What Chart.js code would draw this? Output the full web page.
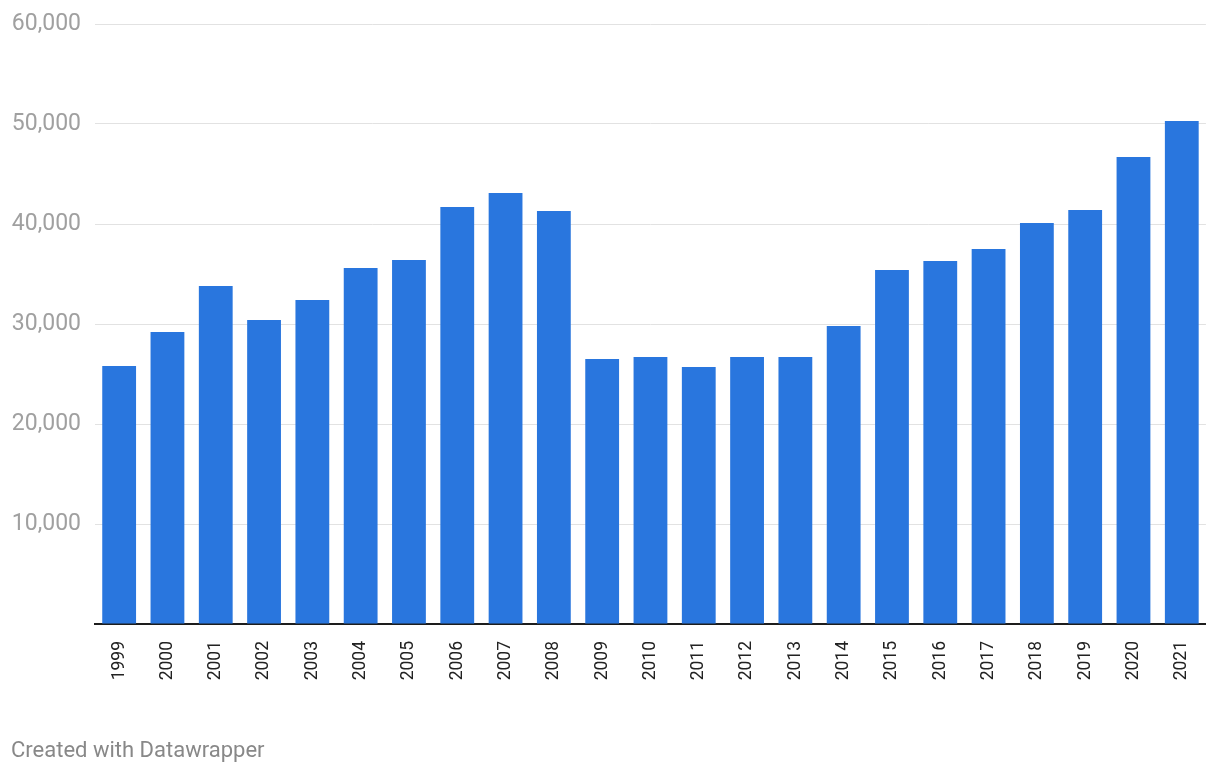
<!DOCTYPE html>
<html>
<head>
<meta charset="utf-8">
<script src="https://cdn.jsdelivr.net/npm/chart.js@4/dist/chart.umd.min.js"></script>
<style>
  html, body { margin:0; padding:0; background:#fff; }
  #wrap { position:relative; width:1220px; height:774px; }
  #footer { position:absolute; left:11px; top:737px; font-family:Roboto, sans-serif; font-size:22px; line-height:26px; color:#888; }
</style>
</head>
<body>
<div id="wrap">
  <canvas id="chart" width="1220" height="774"></canvas>
  <div id="footer">Created with Datawrapper</div>
</div>
<script>
// values
const years = ['1999','2000','2001','2002','2003','2004','2005','2006','2007','2008','2009','2010',
               '2011','2012','2013','2014','2015','2016','2017','2018','2019','2020','2021'];
const values = [25800, 29200, 33800, 30400, 32400, 35600, 36400, 41700, 43100, 41300, 26500, 26700,
                25700, 26700, 26700, 29800, 35400, 36300, 37500, 40100, 41400, 46700, 50300];
const yTicks = [0, 10000, 20000, 30000, 40000, 50000, 60000];

const ctx = document.getElementById('chart').getContext('2d');
new Chart(ctx, {
  type: 'bar',
  data: {
    labels: years,
    datasets: [{ data: values, backgroundColor: '#2976de', barPercentage: 0.7, categoryPercentage: 1 }]
  },
  options: {
    responsive: false,
    animation: false,
    layout: { padding: { top: 24, right: 10, left: 0, bottom: 0 } },
    plugins: { legend: { display: false }, tooltip: { enabled: false } },
    scales: {
      x: {
        grid: { display: false, drawTicks: false },
        border: { display: true, color: '#1d1d1d', width: 2 },
        ticks: { minRotation: 90, maxRotation: 90, padding: 17, color: '#222',
                 font: { family: 'Roboto', size: 17.5 } },
        afterFit: s => { s.height = 150; }
      },
      y: {
        min: 0, max: 60000,
        afterBuildTicks: s => { s.ticks = yTicks.map(v => ({ value: v })); },
        grid: { color: c => c.tick.value === 0 ? 'rgba(0,0,0,0)' : '#e2e2e2', lineWidth: 1, drawTicks: false },
        border: { display: false },
        ticks: { padding: 14, color: '#a0a0a0', font: { family: 'Roboto', size: 23 },
                 callback: v => v === 0 ? '' : v.toLocaleString('en-US') },
        afterFit: s => { s.width = 95; s.paddingTop = 0; s.paddingBottom = 0; }
      }
    }
  }
});
</script>
</body>
</html>
